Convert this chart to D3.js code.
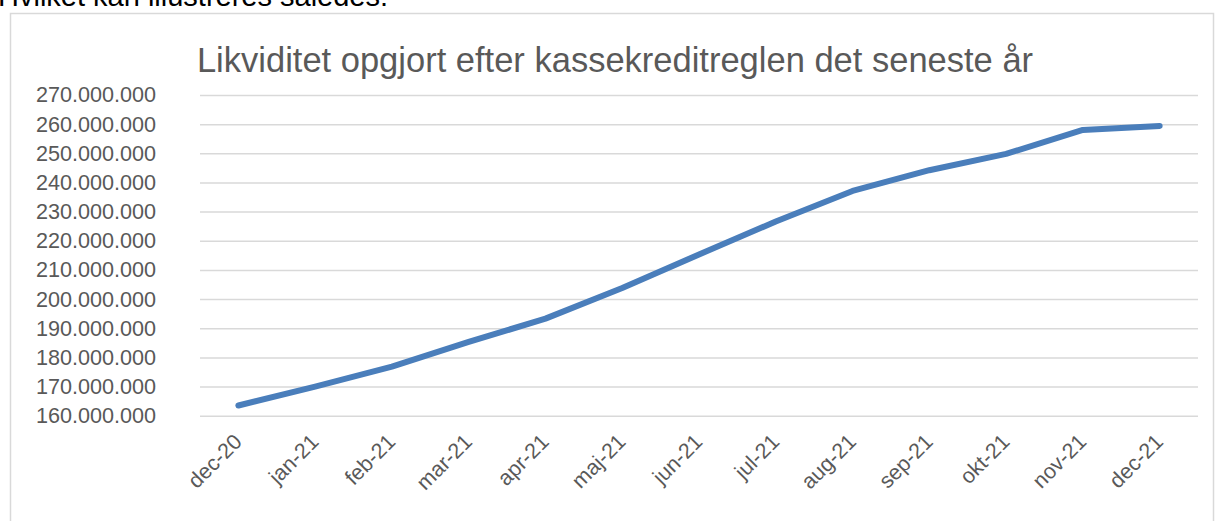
<!DOCTYPE html>
<html>
<head>
<meta charset="utf-8">
<script src="https://cdn.jsdelivr.net/npm/d3@7"></script>
<style>
	body { margin: 0; background: #fff; }
	svg { display: block; font-family: "Liberation Sans", Arial, sans-serif; }
</style>
</head>
<body>
<div class="chart"></div>
<script>
// data
const months = ['dec-20', 'jan-21', 'feb-21', 'mar-21', 'apr-21', 'maj-21', 'jun-21',
	'jul-21', 'aug-21', 'sep-21', 'okt-21', 'nov-21', 'dec-21'];
const liquidity = [163.5e6, 170e6, 176.8e6, 185.3e6, 193.3e6, 203.8e6, 215.3e6,
	226.6e6, 237.1e6, 244.2e6, 249.8e6, 258e6, 259.4e6];
const yTicks = [160e6, 170e6, 180e6, 190e6, 200e6, 210e6, 220e6, 230e6, 240e6, 250e6, 260e6, 270e6];
const title = 'Likviditet opgjort efter kassekreditreglen det seneste år';
const introText = 'Hvilket kan illustreres således:';

const width = 1215;
const height = 521;
const margin = {top: 95, right: 17, bottom: 105.3, left: 200};
const plotW = width - margin.left - margin.right;
const plotH = height - margin.top - margin.bottom;

const da = d3.formatLocale({decimal: ',', thousands: '.', grouping: [3], currency: ['', ' kr.']});
const fmt = da.format(',.0f');

const svg = d3.select('.chart')
	.append('svg')
	.attr('width', width)
	.attr('height', height);

// bit of the document text above the chart (cut off by the crop, as in the original)
svg.append('text')
	.attr('x', -2)
	.attr('y', 6)
	.attr('font-size', 29)
	.attr('fill', '#000')
	.text(introText);

// chart frame
svg.append('rect')
	.attr('x', 10.5)
	.attr('y', 13.5)
	.attr('width', 1203)
	.attr('height', 540)
	.attr('fill', 'none')
	.attr('stroke', '#d9d9d9')
	.attr('stroke-width', 1.5);

svg.append('text')
	.attr('x', 615)
	.attr('y', 72)
	.attr('text-anchor', 'middle')
	.attr('font-size', 34.5)
	.attr('fill', '#595959')
	.text(title);

const g = svg.append('g')
	.attr('transform', `translate(${margin.left}, ${margin.top})`);

/* SCALES */
const x = d3.scalePoint()
	.domain(months)
	.range([0, plotW])
	.padding(0.5);

const y = d3.scaleLinear()
	.domain([160e6, 270e6])
	.range([plotH, 0]);

/* Y AXIS + GRID */
const yAxis = d3.axisLeft(y)
	.tickValues(yTicks)
	.tickFormat(fmt)
	.tickSize(-plotW)
	.tickPadding(44);

g.append('g')
	.call(yAxis)
	.call(s => s.select('.domain').remove())
	.call(s => s.selectAll('line').attr('stroke', '#d9d9d9').attr('stroke-width', 1.5))
	.call(s => s.selectAll('text')
		.attr('fill', '#595959')
		.attr('font-size', 21.6)
		.attr('font-family', '"Liberation Sans", Arial, sans-serif'));

/* X AXIS */
g.append('g')
	.attr('transform', `translate(0, ${plotH})`)
	.call(d3.axisBottom(x).tickSize(0))
	.call(s => s.select('.domain').remove())
	.call(s => s.selectAll('text')
		.attr('fill', '#595959')
		.attr('font-size', 21.5)
		.attr('font-family', '"Liberation Sans", Arial, sans-serif')
		.attr('text-anchor', 'end')
		.attr('y', 0)
		.attr('dy', '0.35em')
		.attr('transform', 'translate(-1, 22) rotate(-45)'));

/* LINE */
const line = d3.line()
	.x((d, i) => x(months[i]))
	.y(d => y(d));

g.append('path')
	.datum(liquidity)
	.attr('d', line)
	.attr('fill', 'none')
	.attr('stroke', '#4a7ebb')
	.attr('stroke-width', 6)
	.attr('stroke-linecap', 'round')
	.attr('stroke-linejoin', 'round');
</script>
</body>
</html>
